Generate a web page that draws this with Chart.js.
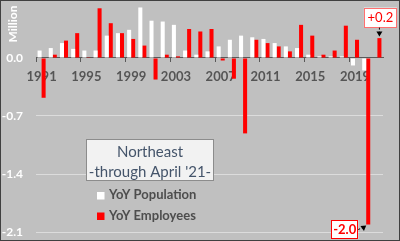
<!DOCTYPE html>
<html>
<head>
<meta charset="utf-8">
<title>Northeast YoY</title>
<script src="https://cdn.jsdelivr.net/npm/chart.js@4/dist/chart.umd.min.js"></script>
<style>
    html, body { margin: 0; padding: 0; background: #c0c0c0; }
    #wrap { width: 400px; height: 241px; }
</style>
</head>
<body>
<div id="wrap"><canvas id="nePopChart" width="400" height="241"></canvas></div>
<script>

const years = [
    "1991", "1992", "1993", "1994", "1995", "1996", "1997", "1998", "1999", "2000",
    "2001", "2002", "2003", "2004", "2005", "2006", "2007", "2008", "2009", "2010",
    "2011", "2012", "2013", "2014", "2015", "2016", "2017", "2018", "2019", "2020", "2021"
];

// million, year over year
const population = [
    0.09, 0.12, 0.18, 0.11, 0.09, 0.09, 0.27, 0.30, 0.34, 0.61,
    0.45, 0.44, 0.40, 0.09, 0.04, 0.08, 0.14, 0.22, 0.27, 0.25,
    0.23, 0.18, 0.14, 0.12, 0.04, 0.02, 0.02, 0.02, -0.09, -0.15, null
];

const employees = [
    -0.48, 0.04, 0.21, 0.30, 0.01, 0.60, 0.42, 0.30, 0.23, 0.15,
    -0.26, 0.04, 0.02, 0.35, 0.32, 0.35, -0.03, -0.25, -0.91, 0.22,
    0.18, 0.14, 0.08, 0.40, 0.27, 0.04, 0.09, 0.39, 0.22, -2.01, 0.24
];

const xTickLabels = ["1991", "1995", "1999", "2003", "2007", "2011", "2015", "2019"];
const yTickValues = [0, -0.7, -1.4, -2.1];

const titleLines = ["Northeast", "-through April '21-"];
const calloutYears = ["2020", "2021"];

const FONT = "Lato, 'Open Sans', sans-serif";

// background + outer frame
const chartFrame = {
    id: "chartFrame",
    beforeDraw(chart) {
        const ctx = chart.ctx;
        ctx.save();
        ctx.fillStyle = "#c0c0c0";
        ctx.fillRect(0, 0, chart.width, chart.height);
        ctx.restore();
    },
    afterDraw(chart) {
        const ctx = chart.ctx;
        ctx.save();
        ctx.strokeStyle = "#404040";
        ctx.lineWidth = 1;
        ctx.strokeRect(0.5, 0.5, chart.width - 1, chart.height - 1);

        // unit label
        ctx.translate(13, 24);
        ctx.rotate(-Math.PI / 2);
        ctx.fillStyle = "#ffffff";
        ctx.font = "bold 12px " + FONT;
        ctx.textAlign = "center";
        ctx.textBaseline = "middle";
        ctx.fillText("Million", 0, 0);
        ctx.restore();
    }
};

// title box and legend inside the plot
const noteBox = {
    id: "noteBox",
    afterDatasetsDraw(chart) {
        const ctx = chart.ctx;
        ctx.save();

        ctx.fillStyle = "#f2f2f2";
        ctx.fillRect(86, 139, 128, 42);
        ctx.strokeStyle = "#8c8c8c";
        ctx.lineWidth = 1;
        ctx.strokeRect(86.5, 139.5, 127, 41);

        ctx.fillStyle = "#44546a";
        ctx.font = "15px " + FONT;
        ctx.textAlign = "center";
        ctx.textBaseline = "middle";
        titleLines.forEach((t, i) => ctx.fillText(t, 150, 152 + i * 20));

        ctx.textAlign = "left";
        chart.data.datasets.forEach((ds, i) => {
            const y = 195.5 + i * 20.5;
            ctx.fillStyle = ds.backgroundColor;
            ctx.fillRect(97, y - 3.5, 7.5, 7.5);
        });
        ctx.fillStyle = "#4d4d4d";
        ctx.font = "bold 13px " + FONT;
        chart.data.datasets.forEach((ds, i) => {
            ctx.fillText(ds.label, 109, 195 + i * 21);
        });

        ctx.restore();
    }
};

function arrowHead(ctx, x, y, angle) {
    ctx.save();
    ctx.translate(x, y);
    ctx.rotate(angle);
    ctx.beginPath();
    ctx.moveTo(0, 0);
    ctx.lineTo(-5, -3);
    ctx.lineTo(-5, 3);
    ctx.closePath();
    ctx.fill();
    ctx.restore();
}

// value callouts on the last two employee bars
const callouts = {
    id: "callouts",
    afterDatasetsDraw(chart) {
        const ctx = chart.ctx;
        const meta = chart.getDatasetMeta(1);

        calloutYears.forEach(yr => {
            const i = years.indexOf(yr);
            const bar = meta.data[i];
            const v = employees[i];
            const text = (v > 0 ? "+" : "") + v.toFixed(1);

            ctx.save();
            ctx.font = (v < 0 ? "bold " : "") + "13px " + FONT;
            ctx.textAlign = "center";
            ctx.textBaseline = "middle";

            const w = v < 0 ? 27 : 33;
            const h = v < 0 ? 19 : 20;
            let bx, by;
            if (v < 0) {
                bx = bar.x - 10 - w;
                by = bar.y + 5 - h / 2;
            } else {
                bx = bar.x + 1 - w / 2;
                by = bar.y - 10.5 - h;
            }

            ctx.fillStyle = "#ffffff";
            ctx.fillRect(bx, by, w, h);
            ctx.strokeStyle = v < 0 ? "#ff0000" : "#ff7070";
            ctx.lineWidth = 1;
            ctx.strokeRect(Math.round(bx) + 0.5, Math.round(by) + 0.5, w - 1, h - 1);

            ctx.fillStyle = "#ff0000";
            ctx.fillText(text, bx + w / 2, by + h / 2 + 0.5);

            // leader
            ctx.strokeStyle = "#000000";
            ctx.fillStyle = "#000000";
            ctx.setLineDash([2, 2]);
            ctx.beginPath();
            if (v < 0) {
                ctx.moveTo(bx + w, by + h / 2);
                ctx.lineTo(bar.x - 3, bar.y + 2);
                ctx.stroke();
                arrowHead(ctx, bar.x - 2, bar.y + 1, -Math.PI / 5);
            } else {
                ctx.moveTo(bar.x, by + h);
                ctx.lineTo(bar.x, bar.y - 2);
                ctx.stroke();
                arrowHead(ctx, bar.x, bar.y - 1.5, Math.PI / 2);
            }
            ctx.restore();
        });
    }
};

const canvas = document.getElementById("nePopChart");

new Chart(canvas, {
    type: "bar",

    data: {
        labels: years,
        datasets: [
            {
                label: "YoY Population",
                data: population,
                backgroundColor: "#ffffff",
                borderWidth: 0
            },
            {
                label: "YoY Employees",
                data: employees,
                backgroundColor: "#ff0000",
                borderWidth: 0
            }
        ]
    },

    options: {
        responsive: false,
        animation: false,
        devicePixelRatio: 1,

        layout: {
            padding: { top: 0, right: 17, bottom: 9, left: 0 }
        },

        datasets: {
            bar: {
                categoryPercentage: 0.72,
                barPercentage: 1.0
            }
        },

        scales: {
            x: {
                type: "category",
                position: { y: 0 },
                offset: true,
                afterFit: s => {
                    s.height = 0;
                    s.paddingTop = 0;
                    s.paddingBottom = 0;
                },
                grid: {
                    offset: true,
                    drawOnChartArea: false,
                    tickLength: 4,
                    tickColor: ctx => (ctx.index % 4 === 0 ? "#595959" : "rgba(0,0,0,0)")
                },
                border: { color: "#595959", width: 1 },
                ticks: {
                    autoSkip: false,
                    maxRotation: 0,
                    padding: 7,
                    color: "#555555",
                    font: { family: FONT, size: 13, weight: "bold" },
                    callback: (val, i) => (xTickLabels.includes(years[i]) ? years[i] : "")
                }
            },
            y: {
                min: -2.1,
                max: 0.7,
                afterBuildTicks: s => {
                    s.ticks = yTickValues.map(v => ({ value: v }));
                },
                afterFit: s => {
                    s.width = 36;
                    s.paddingTop = 0;
                    s.paddingBottom = 0;
                },
                grid: {
                    drawTicks: false,
                    color: ctx => (ctx.tick && ctx.tick.value === 0 ? "rgba(0,0,0,0)" : "#dcdcdc")
                },
                border: { display: false },
                ticks: {
                    padding: 13,
                    color: "#ffffff",
                    font: { family: FONT, size: 12, weight: "bold" },
                    callback: v => v.toFixed(1)
                }
            }
        },

        plugins: {
            legend: { display: false },
            tooltip: { enabled: false }
        }
    },

    plugins: [chartFrame, noteBox, callouts]
});

</script>
</body>
</html>
